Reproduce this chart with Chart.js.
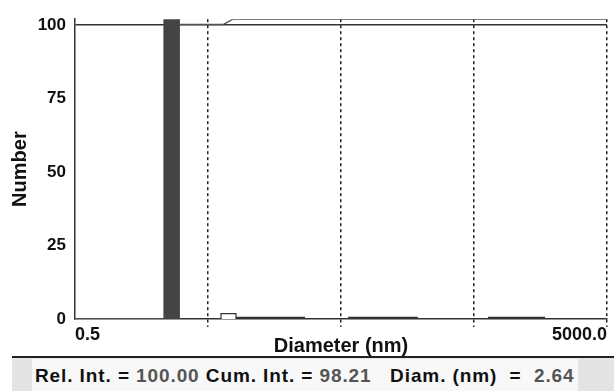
<!DOCTYPE html>
<html>
<head>
<meta charset="utf-8">
<script src="https://cdn.jsdelivr.net/npm/chart.js@4.4.1/dist/chart.umd.min.js"></script>
<style>
  body { margin: 0; background: #fff; font-family: "Liberation Sans", Arial, sans-serif; }
  #wrap { position: relative; width: 614px; height: 356px; }
  #status {
    margin-left: 12px; width: 602px; height: 33px;
    border-top: 2px solid #222; background: #e4e4e4; position: relative;
  }
  #status .inner {
    position: absolute; left: 20px; top: 1px; width: 546px; height: 32px;
    background: #f8f8f8; font-weight: bold; font-size: 19px; line-height: 34px;
    letter-spacing: 0.9px; color: #111; white-space: pre; padding-left: 3px; box-sizing: border-box;
  }
  #status .val { color: #555; }
</style>
</head>
<body>
<div id="wrap"><canvas id="sizeChart" width="614" height="356"></canvas></div>
<div id="status"><div class="inner">Rel. Int. = <span class="val">100.00</span> Cum. Int. = <span class="val">98.21</span>   Diam. (nm)  =  <span class="val">2.64</span></div></div>
<script>
// size bins (nm): left edge, right edge, number value
const mainBinLo = [2.33];
const mainBinHi = [3.03];
const mainBinVal = [100];

const smallBinLo = [6.26];
const smallBinHi = [8.12];
const smallBinVal = [1.79];

// bins that are almost empty, shown as thick lines on the baseline
const lowBinLo = [8.12, 56.5, 637];
const lowBinHi = [26.8, 189, 1709];
const lowBinVal = [0.4, 0.4, 0.4];

// cumulative curve
const cumX = [0.5, 2.6, 2.75, 6.5, 7.7, 5000];
const cumY = [0, 0, 98.21, 98.21, 100, 100];

const xTicks = [0.5, 5, 50, 500, 5000];
const xLabels = { 0.5: '0.5', 5000: '5000.0' };
const yTicks = [0, 25, 50, 75, 100];

function binShape(lo, hi, val) {
  const pts = [];
  lo.forEach((l, i) => {
    pts.push({ x: l, y: 0 }, { x: l, y: val[i] }, { x: hi[i], y: val[i] }, { x: hi[i], y: 0 });
  });
  return pts;
}

function lowLines(lo, hi, val) {
  const pts = [];
  lo.forEach((l, i) => {
    pts.push({ x: l, y: val[i] }, { x: hi[i], y: val[i] }, { x: hi[i], y: null });
  });
  return pts;
}

const bold = size => ({ family: '"Liberation Sans", Arial, sans-serif', weight: 'bold', size: size });

const ctx = document.getElementById('sizeChart').getContext('2d');
new Chart(ctx, {
  type: 'line',
  data: {
    datasets: [
      {
        label: 'Cumulative',
        data: cumX.map((x, i) => ({ x: x, y: cumY[i] })),
        borderColor: '#555',
        borderWidth: 1.5,
        pointRadius: 0,
        fill: false,
        yAxisID: 'yData',
        order: 3
      },
      {
        label: 'Number',
        data: binShape(mainBinLo, mainBinHi, mainBinVal),
        borderColor: '#444',
        backgroundColor: '#444',
        borderWidth: 1,
        pointRadius: 0,
        fill: 'origin',
        yAxisID: 'yData',
        order: 2
      },
      {
        label: 'Number small',
        data: binShape(smallBinLo, smallBinHi, smallBinVal),
        borderColor: '#333',
        backgroundColor: '#fff',
        borderWidth: 1.2,
        pointRadius: 0,
        fill: 'origin',
        yAxisID: 'yData',
        order: 1
      },
      {
        label: 'Number low',
        data: lowLines(lowBinLo, lowBinHi, lowBinVal),
        borderColor: '#333',
        borderWidth: 2,
        pointRadius: 0,
        spanGaps: false,
        fill: false,
        yAxisID: 'yData',
        order: 1
      }
    ]
  },
  options: {
    responsive: false,
    animation: false,
    layout: { padding: { top: 17, right: 7, left: 0, bottom: 0 } },
    plugins: { legend: { display: false }, tooltip: { enabled: false } },
    scales: {
      x: {
        type: 'logarithmic',
        min: 0.5,
        max: 5000,
        afterBuildTicks: s => { s.ticks = xTicks.map(v => ({ value: v })); },
        afterFit: s => { s.height = 37; },
        ticks: {
          autoSkip: false,
          maxRotation: 0,
          align: 'inner',
          padding: -3,
          color: '#111',
          font: bold(18),
          callback: v => xLabels[v] || ''
        },
        grid: {
          color: c => (c.tick && c.tick.value === 0.5 ? 'rgba(0,0,0,0)' : '#222'),
          lineWidth: 1.5,
          tickLength: 8,
          tickBorderDash: [3, 3]
        },
        border: { display: true, color: '#333', width: 1.5, dash: [3, 3] },
        title: { display: true, text: 'Diameter (nm)', color: '#111', font: bold(20), padding: { top: -2, bottom: -2 } }
      },
      y: {
        min: 0,
        max: 102,
        afterBuildTicks: s => { s.ticks = yTicks.map(v => ({ value: v })); },
        afterFit: s => { s.width = 75; },
        ticks: { padding: 9, color: '#111', font: bold(17) },
        grid: {
          drawTicks: false,
          color: c => (c.tick && c.tick.value === 100 ? '#333' : 'rgba(0,0,0,0)'),
          lineWidth: 1.5
        },
        border: { display: true, color: '#333', width: 1.5 },
        title: { display: true, text: 'Number', color: '#111', font: bold(20), padding: { top: 8, bottom: 0 } }
      },
      yData: { display: false, min: 0, max: 100 }
    }
  }
});
</script>
</body>
</html>
